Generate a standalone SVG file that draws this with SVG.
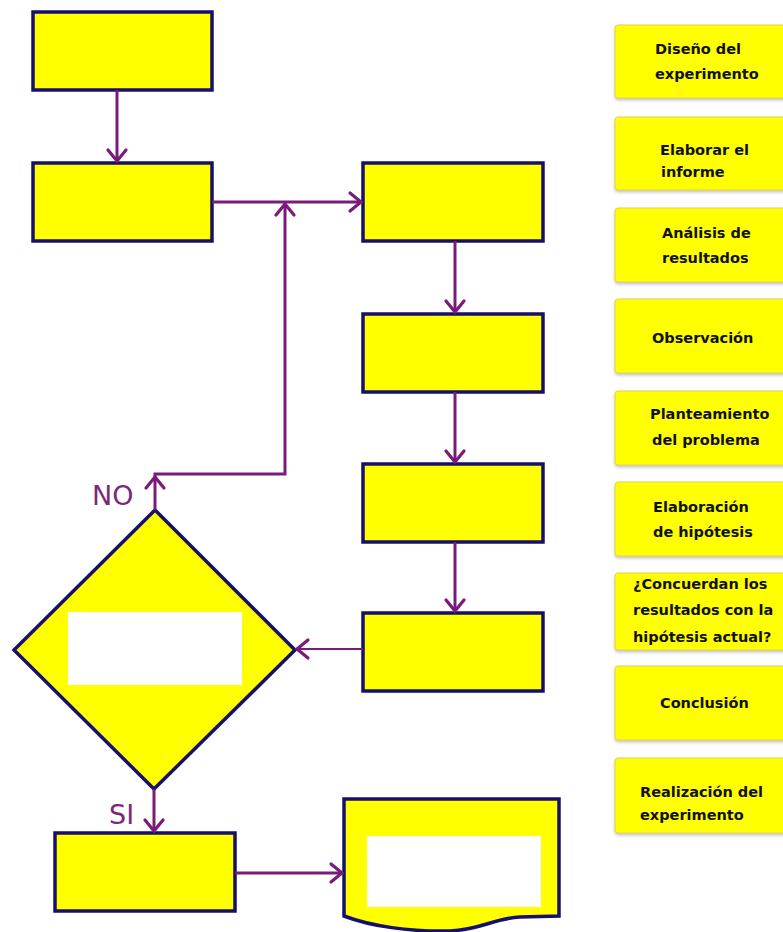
<svg xmlns="http://www.w3.org/2000/svg" width="783" height="932" viewBox="0 0 783 932">
  <style>
    .box { fill: #ffff00; stroke: #16106a; stroke-width: 3.5; }
    .hole { fill: #ffffff; stroke: none; }
    .wire { fill: none; stroke: #7a1a7a; stroke-width: 3; stroke-linejoin: miter; }
    .thin { stroke-width: 2; }
    .lbl { font-family: "DejaVu Sans", "Liberation Sans", sans-serif; font-size: 27px; fill: #7a2a7a; }
    .note { fill: #ffff00; stroke: #e2d24a; stroke-width: 1; filter: url(#soft); }
    .nt { font-family: "DejaVu Sans", "Liberation Sans", sans-serif; font-size: 14.5px; font-weight: bold; fill: #111111; }
  </style>
  <defs>
    <marker id="head" markerUnits="userSpaceOnUse" markerWidth="30" markerHeight="30" refX="0" refY="0" orient="auto" viewBox="-15 -15 30 30" overflow="visible">
      <path d="M-11,-9 L0,0 L-11,9" fill="none" stroke="#7a1a7a" stroke-width="3.2" stroke-linecap="round" stroke-linejoin="miter"/>
    </marker>
    <filter id="soft" x="-10%" y="-20%" width="130%" height="150%">
      <feDropShadow dx="0" dy="2" stdDeviation="1.5" flood-color="#808080" flood-opacity="0.45"/>
    </filter>
  </defs>

  <rect width="783" height="932" fill="#ffffff"/>

  <!-- flowchart nodes -->
  <g id="start"><rect class="box" x="33" y="12" width="179" height="78"/></g>
  <g id="step2"><rect class="box" x="33" y="163" width="179" height="78"/></g>
  <g id="step3"><rect class="box" x="363" y="163" width="180" height="78"/></g>
  <g id="step4"><rect class="box" x="363" y="314" width="180" height="78"/></g>
  <g id="step5"><rect class="box" x="363" y="464" width="180" height="78"/></g>
  <g id="step6"><rect class="box" x="363" y="613" width="180" height="78"/></g>
  <g id="decision">
    <polygon class="box" points="155,510 295,650 154,789 14,650"/>
    <rect class="hole" x="68" y="612" width="174" height="73"/>
  </g>
  <g id="step7"><rect class="box" x="55" y="833" width="180" height="78"/></g>
  <g id="report">
    <path class="box" d="M344,799 H559 V916 L520,917 C495,918 480,930 450,931 C410,932 370,926 344,916 Z"/>
    <rect class="hole" x="367" y="836" width="174" height="71"/>
  </g>

  <!-- connectors -->
  <g id="connectors">
    <path class="wire" d="M117,90 V161" marker-end="url(#head)"/>
    <path class="wire" d="M212,202 H361" marker-end="url(#head)"/>
    <path class="wire" d="M155,510 V477" marker-end="url(#head)"/>
    <path class="wire" d="M155,478 V474 H285 V204" marker-end="url(#head)"/>
    <path class="wire" d="M455,241 V312" marker-end="url(#head)"/>
    <path class="wire" d="M455,392 V462" marker-end="url(#head)"/>
    <path class="wire" d="M455,542 V611" marker-end="url(#head)"/>
    <path class="wire thin" d="M363,649 H297" marker-end="url(#head)"/>
    <path class="wire" d="M154,789 V831" marker-end="url(#head)"/>
    <path class="wire" d="M235,873 H342" marker-end="url(#head)"/>
    <text class="lbl" x="92" y="505">NO</text>
    <text class="lbl" x="109" y="824">SI</text>
  </g>

  <!-- step labels -->
  <g id="label-diseno">
    <rect class="note" x="615" y="25" width="180" height="73" rx="3"/>
    <text class="nt" x="655" y="54">Diseño del</text>
    <text class="nt" x="655" y="79">experimento</text>
  </g>
  <g id="label-informe">
    <rect class="note" x="615" y="117" width="180" height="73" rx="3"/>
    <text class="nt" x="660" y="155">Elaborar el</text>
    <text class="nt" x="661" y="177">informe</text>
  </g>
  <g id="label-analisis">
    <rect class="note" x="615" y="208" width="180" height="74" rx="3"/>
    <text class="nt" x="662" y="238">Análisis de</text>
    <text class="nt" x="662" y="263">resultados</text>
  </g>
  <g id="label-observacion">
    <rect class="note" x="615" y="299" width="180" height="74" rx="3"/>
    <text class="nt" x="652" y="343">Observación</text>
  </g>
  <g id="label-problema">
    <rect class="note" x="615" y="391" width="180" height="74" rx="3"/>
    <text class="nt" x="650" y="419">Planteamiento</text>
    <text class="nt" x="652" y="445">del problema</text>
  </g>
  <g id="label-hipotesis">
    <rect class="note" x="615" y="482" width="180" height="74" rx="3"/>
    <text class="nt" x="653" y="512">Elaboración</text>
    <text class="nt" x="653" y="537">de hipótesis</text>
  </g>
  <g id="label-pregunta">
    <rect class="note" x="615" y="573" width="180" height="77" rx="3"/>
    <text class="nt" x="633" y="589">¿Concuerdan los</text>
    <text class="nt" x="633" y="615">resultados con la</text>
    <text class="nt" x="633" y="642">hipótesis actual?</text>
  </g>
  <g id="label-conclusion">
    <rect class="note" x="615" y="666" width="180" height="74" rx="3"/>
    <text class="nt" x="660" y="708">Conclusión</text>
  </g>
  <g id="label-realizacion">
    <rect class="note" x="615" y="758" width="180" height="75" rx="3"/>
    <text class="nt" x="640" y="797">Realización del</text>
    <text class="nt" x="640" y="820">experimento</text>
  </g>
</svg>
